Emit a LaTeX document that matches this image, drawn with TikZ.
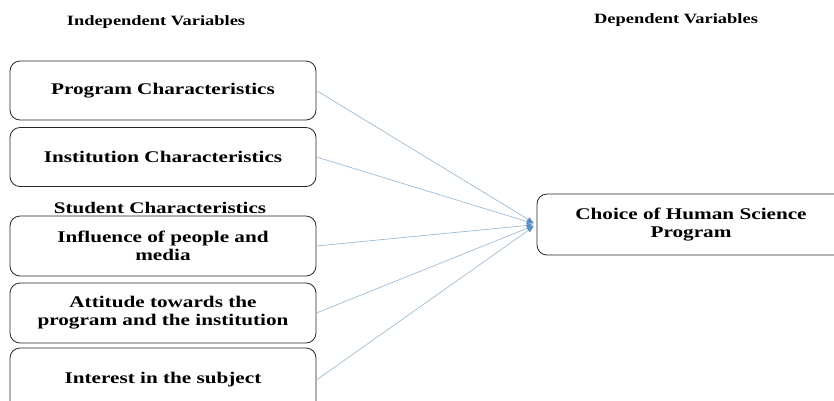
\documentclass[tikz,border=0pt]{standalone}
\usepackage{fontspec}
\setmainfont{Liberation Serif}
\newfontfamily\widefont[FakeStretch=1.3]{Liberation Serif}
\usetikzlibrary{arrows.meta}
\definecolor{linkblue}{HTML}{9DBCD6}
\definecolor{tipblue}{HTML}{5B8FC9}
\begin{document}
\begin{tikzpicture}[x=1pt,y=-1pt,
 varbox/.style={draw=black!85, line width=0.8pt, rounded corners=10pt, minimum width=306pt, align=center, font=\widefont\bfseries\fontsize{16.3}{18}\selectfont, inner sep=0pt},
 head/.style={font=\widefont\bfseries\fontsize{14.2}{16}\selectfont},
 link/.style={draw=linkblue, line width=0.7pt, -{Latex[length=7pt,width=5pt,color=tipblue]}, shorten >=3pt}]
\useasboundingbox (0,0) rectangle (834,400);
\clip (0,0) rectangle (834,400);
\node[head] (ih) at (156,22) {Independent Variables};
\node[head] (dh) at (676,20) {Dependent Variables};
\node[varbox, minimum height=59pt] (b1) at (163,90.5) {Program Characteristics};
\node[varbox, minimum height=59pt] (b2) at (163,157) {Institution Characteristics};
\node[font=\widefont\bfseries\fontsize{16.2}{18}\selectfont] (sc) at (160,208) {Student Characteristics};
\node[varbox, minimum height=60pt] (b3) at (163,246) {Influence of people and\\media};
\node[varbox, minimum height=60pt] (b4) at (163,313) {Attitude towards the\\program and the institution};
\node[varbox, minimum height=64pt] (b5) at (163,380) {Interest in the subject};
\node[varbox, minimum width=308pt, minimum height=61pt] (ch) at (691,224.5) {Choice of Human Science\\Program};
\foreach \b in {b1,b2,b3,b4,b5}{\draw[link] (\b.east) -- (ch.west);}
\end{tikzpicture}
\end{document}
